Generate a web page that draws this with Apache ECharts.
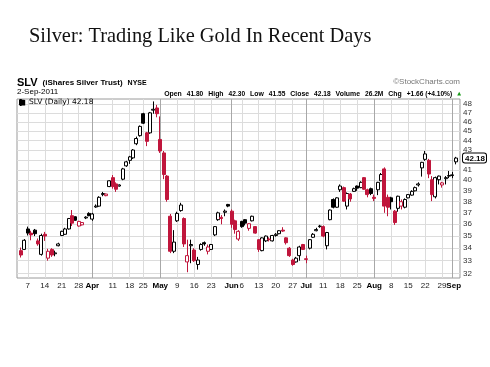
<!DOCTYPE html>
<html><head><meta charset="utf-8">
<script src="https://cdn.jsdelivr.net/npm/echarts@6/dist/echarts.min.js"></script>
<style>html,body{margin:0;padding:0;background:#fff}#c{width:490px;height:367px}</style>
</head><body><div id="c"></div>
<script>
const dates = ['2011-03-03','2011-03-04','2011-03-07','2011-03-08','2011-03-09','2011-03-10','2011-03-11','2011-03-14','2011-03-15','2011-03-16','2011-03-17','2011-03-18','2011-03-21','2011-03-22','2011-03-23','2011-03-24','2011-03-25','2011-03-28','2011-03-29','2011-03-30','2011-03-31','2011-04-01','2011-04-04','2011-04-05','2011-04-06','2011-04-07','2011-04-08','2011-04-11','2011-04-12','2011-04-13','2011-04-14','2011-04-15','2011-04-18','2011-04-19','2011-04-20','2011-04-21','2011-04-25','2011-04-26','2011-04-27','2011-04-28','2011-04-29','2011-05-02','2011-05-03','2011-05-04','2011-05-05','2011-05-06','2011-05-09','2011-05-10','2011-05-11','2011-05-12','2011-05-13','2011-05-16','2011-05-17','2011-05-18','2011-05-19','2011-05-20','2011-05-23','2011-05-24','2011-05-25','2011-05-26','2011-05-27','2011-05-31','2011-06-01','2011-06-02','2011-06-03','2011-06-06','2011-06-07','2011-06-08','2011-06-09','2011-06-10','2011-06-13','2011-06-14','2011-06-15','2011-06-16','2011-06-17','2011-06-20','2011-06-21','2011-06-22','2011-06-23','2011-06-24','2011-06-27','2011-06-28','2011-06-29','2011-06-30','2011-07-01','2011-07-05','2011-07-06','2011-07-07','2011-07-08','2011-07-11','2011-07-12','2011-07-13','2011-07-14','2011-07-15','2011-07-18','2011-07-19','2011-07-20','2011-07-21','2011-07-22','2011-07-25','2011-07-26','2011-07-27','2011-07-28','2011-07-29','2011-08-01','2011-08-02','2011-08-03','2011-08-04','2011-08-05','2011-08-08','2011-08-09','2011-08-10','2011-08-11','2011-08-12','2011-08-15','2011-08-16','2011-08-17','2011-08-18','2011-08-19','2011-08-22','2011-08-23','2011-08-24','2011-08-25','2011-08-26','2011-08-29','2011-08-30','2011-08-31','2011-09-01','2011-09-02'];

const open  = [33.80,33.90,35.60,35.25,35.50,34.60,33.50,35.15,33.20,33.90,33.55,34.20,35.05,35.15,35.60,36.75,36.65,35.85,35.95,36.55,36.95,36.45,37.52,37.60,38.65,38.55,39.40,40.25,39.65,39.45,40.10,41.40,41.95,42.20,43.65,44.50,46.90,44.80,44.80,47.30,47.55,44.10,42.70,40.40,36.70,33.75,36.30,37.20,36.50,32.90,34.20,33.85,32.70,33.90,34.45,33.75,33.90,35.10,36.40,36.60,37.05,37.75,37.15,36.30,34.75,36.25,36.40,35.65,36.30,35.80,34.70,33.80,34.60,34.75,34.60,35.05,35.20,35.50,34.85,34.00,33.05,32.90,33.40,34.30,33.15,34.00,34.90,35.45,35.80,35.80,34.20,36.40,38.20,37.50,39.10,39.30,37.60,38.70,38.95,39.45,39.30,40.25,39.10,39.20,38.40,39.10,39.95,41.10,38.40,38.35,37.15,37.40,37.60,37.50,38.35,38.60,39.00,39.55,41.20,42.05,41.95,40.05,38.45,40.05,39.55,40.15,40.40,40.45,41.80];
const close = [33.45,34.65,35.25,35.10,35.20,34.35,35.05,35.00,33.75,33.45,33.62,34.35,35.40,35.60,36.50,36.10,36.35,36.25,36.15,36.62,36.75,36.90,37.60,38.40,38.75,38.70,39.95,39.40,39.15,39.55,41.10,41.80,42.30,43.00,44.20,45.50,45.85,43.90,47.00,47.40,46.90,42.90,40.55,38.20,33.75,34.50,36.95,37.70,34.35,33.40,34.30,33.00,33.05,34.30,34.35,34.10,34.30,35.80,37.00,36.50,37.15,37.60,36.00,35.55,35.40,35.80,36.10,36.05,36.70,35.25,33.90,34.85,35.00,34.70,35.05,35.15,35.45,35.42,34.45,33.40,32.70,33.20,34.10,33.90,33.10,34.70,35.15,35.55,35.85,35.00,35.30,37.25,37.50,38.35,39.45,38.05,38.75,38.25,39.20,39.25,39.80,39.15,38.65,38.75,38.30,39.80,40.55,37.60,37.50,38.00,36.15,38.50,38.00,38.20,38.65,38.95,39.30,39.65,41.75,42.60,40.60,38.65,40.25,40.40,39.75,40.25,40.45,40.52,42.18];
const low   = [33.25,33.85,35.05,34.65,35.00,34.20,33.40,34.60,33.00,33.30,33.35,34.15,35.00,35.10,35.55,35.85,36.30,35.80,35.90,36.45,36.70,36.30,37.45,37.55,38.50,38.50,39.35,39.20,38.90,39.40,40.00,41.30,41.60,42.10,43.50,44.40,45.75,43.40,44.70,46.90,46.50,42.70,40.10,38.00,33.60,33.60,36.20,37.10,34.10,32.10,32.80,32.90,32.30,33.80,34.20,33.50,33.85,35.00,36.30,36.00,36.70,37.50,35.70,35.20,34.60,35.70,35.90,35.45,36.25,35.20,33.70,33.75,34.50,34.55,34.55,34.95,35.15,35.35,34.30,33.30,32.60,32.85,33.00,33.85,32.80,33.90,34.85,35.40,35.70,34.90,33.90,36.35,37.40,37.45,38.90,38.00,37.30,38.00,38.90,39.00,39.25,39.10,38.40,38.60,38.05,38.60,39.90,37.00,36.70,37.30,35.95,37.10,37.30,37.40,38.30,38.55,38.95,39.40,40.35,41.90,40.20,38.05,38.30,39.60,39.30,39.60,40.20,40.20,41.55];
const high  = [34.05,34.75,35.80,35.45,35.60,34.80,35.20,35.35,33.95,34.00,33.80,34.45,35.45,35.70,36.55,37.25,36.70,36.30,36.20,36.70,37.05,37.00,37.75,38.50,38.90,38.75,40.00,40.50,39.80,39.60,41.20,41.90,42.40,43.10,44.40,45.60,47.00,44.90,47.10,48.30,47.90,46.60,42.90,40.50,36.90,35.50,37.10,37.90,36.60,34.70,34.70,34.00,33.30,34.40,34.55,34.30,34.35,35.85,37.10,36.80,37.30,37.80,37.30,36.40,35.50,36.30,36.45,36.10,36.75,35.85,34.75,34.90,35.05,34.90,35.10,35.25,35.50,35.75,34.90,34.10,33.15,33.30,34.20,34.35,33.40,34.75,35.25,35.70,35.95,35.90,35.35,37.30,38.30,38.40,39.60,39.40,38.85,38.80,39.30,39.50,39.90,40.30,39.20,39.30,38.65,39.85,40.70,41.25,38.65,38.45,37.25,38.55,38.20,38.30,38.70,39.05,39.40,39.80,41.80,42.90,42.10,40.40,40.35,40.45,39.85,40.40,40.90,40.80,42.30];
const prevClose0 = 34.10;

const xTickDates  = ['2011-03-07','2011-03-14','2011-03-21','2011-03-28','2011-04-01','2011-04-11','2011-04-18','2011-04-25','2011-05-02','2011-05-09','2011-05-16','2011-05-23','2011-06-01','2011-06-06','2011-06-13','2011-06-20','2011-06-27','2011-07-01','2011-07-11','2011-07-18','2011-07-25','2011-08-01','2011-08-08','2011-08-15','2011-08-22','2011-08-29','2011-09-01'];
const xTickLabels = ['7','14','21','28','Apr','11','18','25','May','9','16','23','Jun','6','13','20','27','Jul','11','18','25','Aug','8','15','22','29','Sep'];
const monthNames  = ['Apr','May','Jun','Jul','Aug','Sep'];
const yTicks = [32,33,34,35,36,37,38,39,40,41,42,43,44,45,46,47,48];
const lastClose = 42.18;

const RED = '#C0163C';
const L = Math.log;
const blackData = [], redData = [];
for (let i = 0; i < dates.length; i++) {
  const pc = i === 0 ? prevClose0 : close[i-1];
  const item = [i, L(open[i]), L(close[i]), L(low[i]), L(high[i])];
  (close[i] < pc ? redData : blackData).push(item);
}
const tickIdx = xTickDates.map(d => dates.indexOf(d));
const isMonth = s => monthNames.indexOf(s) >= 0;
const fmtLab = s => isMonth(s) ? '{b|' + s + '}' : s;
// labels: the last two ("29" and "Sep") sit so close that they print as one run of text
const labelPos = [], labelText = [];
const nT = tickIdx.length;
for (let k = 0; k < nT - 2; k++) { labelPos.push(tickIdx[k]); labelText.push(fmtLab(xTickLabels[k])); }
labelPos.push((tickIdx[nT-2] + tickIdx[nT-1]) / 2 + 0.6);
labelText.push(fmtLab(xTickLabels[nT-2]) + fmtLab(xTickLabels[nT-1]));
const monthIdx = tickIdx.filter((ix, k) => isMonth(xTickLabels[k]));
const weekIdx = tickIdx.filter((ix, k) => !isMonth(xTickLabels[k]));
const yLabelVals = yTicks.filter(v => v !== 42).map(L).concat([L(lastClose)]);

const chart = echarts.init(document.getElementById('c'), null, {renderer: 'canvas'});
const xMin = -1.18, xMax = 129.26;
chart.setOption({
  animation: false,
  backgroundColor: '#fff',
  title: [
    {text: 'Silver: Trading Like Gold In Recent Days', left: 29, top: 27, padding: 0,
     textStyle: {fontFamily: 'Liberation Serif', fontSize: 20.4, fontWeight: 'normal', color: '#111'}},
    {text: '{a|SLV} {b|(iShares Silver Trust)} {c|NYSE}', left: 17, top: 74, padding: 0,
     textStyle: {rich: {
       a: {fontFamily: 'Liberation Sans', fontSize: 11, fontWeight: 'bold', color: '#000'},
       b: {fontFamily: 'Liberation Sans', fontSize: 8, color: '#000'},
       c: {fontFamily: 'Liberation Sans', fontSize: 7, color: '#000'}}}},
    {text: '2-Sep-2011', left: 17, top: 88, padding: 0,
     textStyle: {fontFamily: 'Liberation Sans', fontSize: 8, fontWeight: 'normal', color: '#000'}},
    {text: '{l|Open} {v|41.80} {l|High} {v|42.30} {l|Low} {v|41.55} {l|Close} {v|42.18} {l|Volume} {v|26.2M} {l|Chg} {v|+1.66 (+4.10%)} {g|▲}',
     right: 29, top: 85, padding: 0,
     textStyle: {rich: {
       l: {fontFamily: 'Liberation Sans', fontSize: 6.9, fontWeight: 'bold', color: '#000'},
       v: {fontFamily: 'Liberation Sans', fontSize: 6.6, color: '#000'},
       g: {fontFamily: 'DejaVu Sans', fontSize: 5, color: '#1a9a1a'}}}},
    {text: '©StockCharts.com', right: 30, top: 78, padding: 0,
     textStyle: {fontFamily: 'Liberation Sans', fontSize: 8, fontWeight: 'normal', color: '#777'}}
  ],
  legend: {
    left: 19, top: 98, padding: 0, itemWidth: 8, itemHeight: 7, itemGap: 3,
    data: [{name: 'SLV (Daily) 42.18', icon: 'path://M1 0V10M0 2H2V7H0ZM5 1V9M4 3H6V8H4Z', itemStyle: {color: '#000', borderColor: '#000'}}],
    textStyle: {fontFamily: 'DejaVu Sans', fontSize: 7.5, color: '#000', padding: [0,0,0,-2]}
  },
  grid: {left: 17, right: 29, top: 99, bottom: 89, show: true, borderColor: '#9a9a9a', borderWidth: 1, backgroundColor: 'transparent'},
  xAxis: [{
    type: 'value', min: xMin, max: xMax,
    axisLine: {show: false},
    axisTick: {show: false, customValues: weekIdx},
    axisLabel: {
      customValues: labelPos, margin: 4, hideOverlap: false, showMinLabel: true, showMaxLabel: true,
      fontFamily: 'Liberation Sans', fontSize: 8, color: '#222',
      formatter: v => { let best = 0; labelPos.forEach((p, k) => { if (Math.abs(p - v) < Math.abs(labelPos[best] - v)) best = k; }); return labelText[best]; },
      rich: {b: {fontFamily: 'Liberation Sans', fontSize: 8, fontWeight: 'bold', color: '#000'}}
    },
    splitLine: {show: true, lineStyle: {color: '#dcdcdc', width: 1}}
  }, {
    type: 'value', min: xMin, max: xMax, position: 'bottom',
    axisLine: {show: false}, axisLabel: {show: false},
    axisTick: {show: false, customValues: monthIdx},
    splitLine: {show: true, lineStyle: {color: '#a8a8a8', width: 1}}
  }],
  yAxis: {
    type: 'value', position: 'right', min: L(31.66), max: L(48.58),
    axisLine: {show: false},
    axisTick: {show: false, customValues: yTicks.map(L)},
    axisLabel: {
      customValues: yLabelVals, margin: 3, hideOverlap: false,
      fontFamily: 'Liberation Sans', fontSize: 8, color: '#333',
      formatter: v => { const p = Math.exp(v); return Math.abs(p - lastClose) < 0.005 ? '{box|' + lastClose.toFixed(2) + '}' : String(Math.round(p)); },
      rich: {box: {fontFamily: 'Liberation Sans', fontSize: 8, fontWeight: 'bold', color: '#000', borderColor: '#000', borderWidth: 1, borderRadius: 2, padding: [1, 1, 0, 2], backgroundColor: '#fff'}}
    },
    splitLine: {show: true, lineStyle: {color: '#dcdcdc', width: 1}}
  },
  series: [
    {name: 'SLV (Daily) 42.18', type: 'candlestick', data: blackData, barWidth: 3.5,
     itemStyle: {color: '#fff', color0: '#000', borderColor: '#000', borderColor0: '#000', borderWidth: 1}},
    {name: 'down', type: 'candlestick', data: redData, barWidth: 3.5,
     itemStyle: {color: '#fff', color0: RED, borderColor: RED, borderColor0: RED, borderWidth: 1}}
  ]
});
</script></body></html>
